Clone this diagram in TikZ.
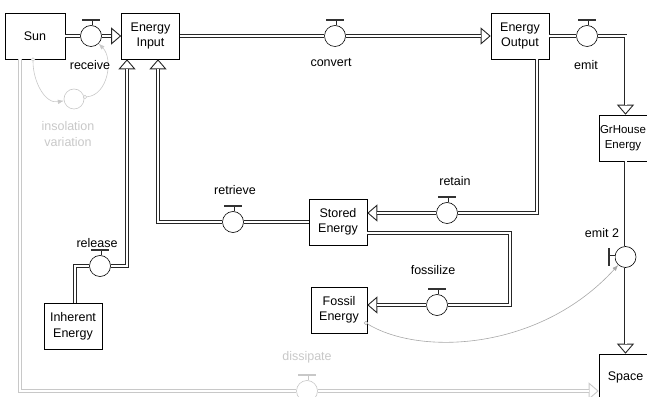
\documentclass[tikz,border=0pt]{standalone}
\usepackage{fontspec}
\setmainfont{Liberation Sans}
\usetikzlibrary{arrows.meta}
\definecolor{sghost}{HTML}{C8C8C8}
\definecolor{slink}{HTML}{A8A8A8}

\tikzset{
  stock/.style={draw, fill=white, minimum width=58pt, minimum height=46pt,
    align=center, inner sep=1pt, line width=0.6pt},
  valve/.style={draw, circle, fill=white, minimum size=21pt, inner sep=0pt, line width=0.6pt},
  conv/.style={draw, circle, minimum size=20pt, inner sep=0pt, line width=0.6pt},
  pipe/.style={draw=black!85, double=white, double distance=2pt, line width=0.8pt},
  topipe/.style={pipe, shorten >=10pt},
  tip/.style={draw=black!85, line width=0.9pt, -{Triangle[open, length=10pt, width=17pt]}},
  stem/.style={draw=black!85, double=white, double distance=1.6pt, line width=0.7pt},
  handle/.style={line width=2.2pt, draw=black!80},
  link/.style={draw=slink, line width=0.6pt, -{Latex[length=6pt, width=4.5pt]}},
  dot/.style={draw, circle, fill=white, inner sep=0pt, minimum size=3.5pt, line width=0.5pt},
}

\begin{document}
\begin{tikzpicture}[x=1pt, y=1pt, font=\fontsize{12.5}{15.5}\selectfont]
  \useasboundingbox (0,0) rectangle (647,396);

  % stocks
  \node[stock, minimum width=60pt] (sun) at (35,360) {Sun};
  \node[stock] (input)    at (150.5,360) {Energy\\Input};
  \node[stock] (output)   at (520,360)   {Energy\\Output};
  \node[stock, minimum width=48pt, font=\fontsize{11.5}{15.5}\selectfont] (grhouse) at (623,258) {GrHouse\\Energy};
  \node[stock, minimum width=53pt] (space)   at (625.5,19)  {Space};
  \node[stock] (stored)   at (338,174)   {Stored\\Energy};
  \node[stock, minimum width=56pt] (fossil)  at (339,86) {Fossil\\Energy};
  \node[stock] (inherent) at (73,69.5)   {Inherent\\Energy};

  % valves
  \node[valve] (receive)   at (91,360)    {};
  \node[valve] (convert)   at (335,360)   {};
  \node[valve] (emit)      at (587,360)   {};
  \node[valve] (retain)    at (447,183)   {};
  \node[valve] (retrieve)  at (233,174)   {};
  \node[valve] (release)   at (100,130)   {};
  \node[valve] (fossilize) at (437,91)    {};
  \node[valve] (emit2)     at (625.5,139) {};
  \node[valve, draw=sghost] (dissipate) at (307,5) {};
  \node[conv, draw=sghost] (insolation) at (74,297) {};

  \coordinate (fbend) at (510,163);   % corner of the fossilize pipe

  % valve handles
  \foreach \v in {receive,convert,emit,retain,retrieve,release,fossilize}{
    \draw[stem] (\v.north) -- ++(0,4.5);
    \draw[handle] ([shift={(-9,5.5)}]\v.north) -- ++(18,0);
  }
  \draw[stem] (emit2.west) -- ++(-4.5,0);
  \draw[handle] ([shift={(-5.5,-9)}]emit2.west) -- ++(0,18);
  \draw[stem, draw=sghost] (dissipate.north) -- ++(0,4.5);
  \draw[handle, draw=sghost] ([shift={(-9,5.5)}]dissipate.north) -- ++(18,0);

  % flows (the open tip first, the double pipe over it)
  \draw[pipe] (sun) -- (receive);
  \draw[tip] (receive) -- (input);
  \draw[topipe] (receive) -- (input);
  \draw[pipe] (input) -- (convert);
  \draw[tip] (convert) -- (output);
  \draw[topipe] (convert) -- (output);
  \draw[pipe] (output) -- (emit);
  \draw[tip] (emit) -| (emit -| emit2) -- ([xshift=2.5pt]grhouse.north);
  \draw[topipe] (emit) -| (emit -| emit2) -- ([xshift=2.5pt]grhouse.north);
  \draw[pipe] ([xshift=2.5pt]grhouse.south) -- (emit2);
  \draw[tip] (emit2) -- (space);
  \draw[topipe] (emit2) -- (space);
  \draw[pipe] ([xshift=17pt]output.south) |- (retain);
  \draw[tip] (retain) -- (retain -| stored.east);
  \draw[topipe] (retain) -- (retain -| stored.east);
  \draw[pipe] (stored) -- (retrieve);
  \draw[tip] (retrieve) -| ([xshift=7.5pt]input.south);
  \draw[topipe] (retrieve) -| ([xshift=7.5pt]input.south);
  \draw[pipe] ([yshift=-11pt]stored.east) -- (fbend) |- (fossilize);
  \draw[tip] (fossilize) -- (fossilize -| fossil.east);
  \draw[topipe] (fossilize) -- (fossilize -| fossil.east);
  \draw[pipe] ([xshift=2pt]inherent.north) |- (release);
  \draw[tip] (release) -| ([xshift=-23.5pt]input.south);
  \draw[topipe] (release) -| ([xshift=-23.5pt]input.south);
  \draw[pipe, draw=sghost] ([xshift=-15pt]sun.south) |- (dissipate);
  \draw[tip, draw=sghost] (dissipate) -- (dissipate -| space.west);
  \draw[topipe, draw=sghost] (dissipate) -- (dissipate -| space.west);

  % connectors
  \node[dot, draw=sghost] (sundot) at (33,336.5) {};
  \node[dot, draw=sghost] (insdot) at (85,299) {};
  \node[dot, draw=slink] (fosdot) at (366,73) {};
  \draw[link, draw=sghost] (sundot) to[out=-90, in=190] (insolation);
  \draw[link, draw=sghost] (insdot) to[out=5, in=-45] (receive);
  \draw[link] (fosdot) .. controls (420,40) and (540,45) .. (emit2);

  % labels
  \node (receive-l)   at (90,331)  {receive};
  \node (convert-l)   at (331,333) {convert};
  \node (emit-l)      at (586,331) {emit};
  \node (retain-l)    at (455,215) {retain};
  \node (retrieve-l)  at (235,206) {retrieve};
  \node (release-l)   at (97,153)  {release};
  \node (fossilize-l) at (433,126) {fossilize};
  \node (emit2-l)     at (602,163) {emit 2};
  \node[text=sghost, align=center] (insolation-l) at (68,262) {insolation\\variation};
  \node[text=sghost] (dissipate-l) at (307,39) {dissipate};
\end{tikzpicture}
\end{document}
